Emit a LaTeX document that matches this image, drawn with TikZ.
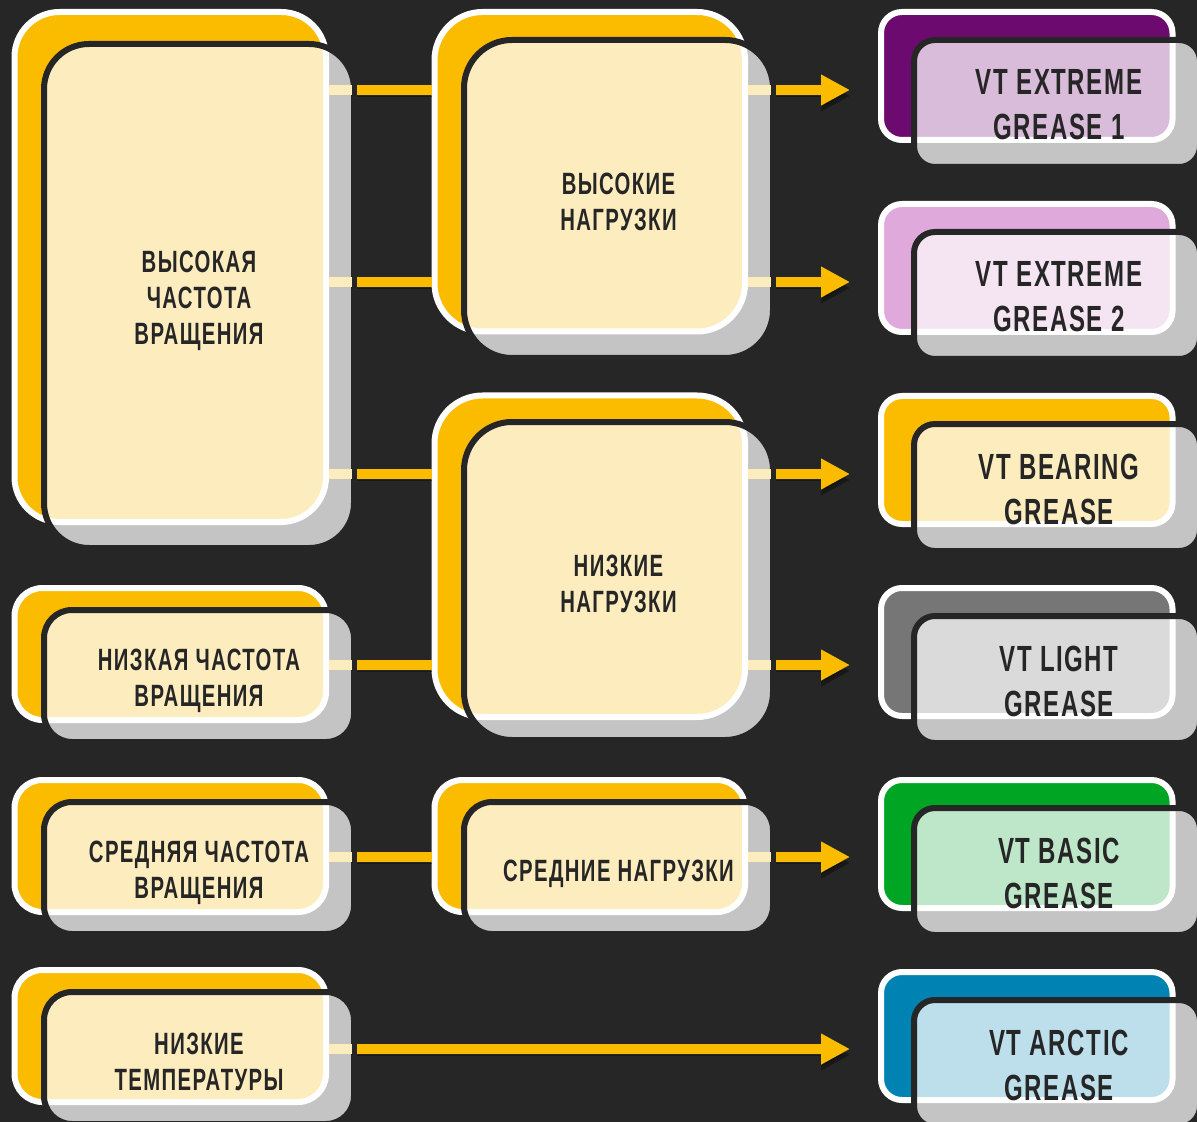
\documentclass[tikz,border=0pt]{standalone}
\usepackage{fontspec}
\newfontfamily\cardfont{Liberation Sans}[FakeStretch=0.66, LetterSpace=4.5]
\usetikzlibrary{arrows.meta}

\definecolor{ink}{RGB}{38,38,38}
\definecolor{amber}{RGB}{251,188,0}
\definecolor{paleamber}{RGB}{253,237,190}
\definecolor{fog}{RGB}{196,196,196}
\definecolor{plum}{RGB}{108,10,111}
\definecolor{paleplum}{RGB}{217,187,218}
\definecolor{orchid}{RGB}{223,169,220}
\definecolor{paleorchid}{RGB}{245,229,243}
\definecolor{slate}{RGB}{118,118,118}
\definecolor{paleslate}{RGB}{218,218,218}
\definecolor{leaf}{RGB}{0,165,36}
\definecolor{paleleaf}{RGB}{190,230,200}
\definecolor{ocean}{RGB}{0,131,179}
\definecolor{paleocean}{RGB}{188,223,235}

\begin{document}
\begin{tikzpicture}[
    x=0.5pt, y=-0.5pt,
    back/.style={rectangle, draw=white, line width=3pt, inner sep=0pt, outer sep=0pt},
    card/.style={rectangle, fill=fog, draw=ink, line width=3pt, inner sep=0pt, outer sep=0pt},
    rim/.style={draw=white, line width=3pt},
    inlay/.style n args={3}{path picture={
        \fill[#2, rounded corners=#3] (#1.south west) rectangle (#1.north east);
        \draw[rim, rounded corners=#3] (#1.south west) rectangle (#1.north east);}},
    big/.style={rounded corners=22.5pt},
    tall/.style={rounded corners=24pt},
    small/.style={rounded corners=14pt},
    tag/.style={rounded corners=10.5pt},
    words/.style={text=ink, align=center, font=\cardfont\bfseries\fontsize{15.4}{18}\selectfont},
    brand/.style={text=ink, align=center, font=\cardfont\bfseries\fontsize{18.2}{22.5}\selectfont},
    stripe/.style={draw=paleamber, line width=5pt, shorten <=1.5pt, shorten >=1pt},
    link/.style={draw=amber, line width=5pt, shorten <=1.5pt, shorten >=1.5pt,
        preaction={draw=black, opacity=.35, transform canvas={yshift=-3pt}}},
    arrow/.style={link, -{Triangle[length=14.5pt, width=14.5pt]}, shorten >=15.5pt}
]

\useasboundingbox (0,0) rectangle (1197,1122);
\fill[ink] (0,0) rectangle (1197,1122);

% Rows of the links
\coordinate (r1) at (0,90);
\coordinate (r2) at (0,282);
\coordinate (r3) at (0,474);
\coordinate (r4) at (0,665);
\coordinate (r5) at (0,857);
\coordinate (r6) at (0,1049);

% Rotation speed and temperature
\node[back, big, fill=amber, minimum width=155.75pt, minimum height=255pt] (hf) at (170.25,267) {};
\node[card, big, inlay={hf}{paleamber}{22.5pt}, minimum width=155pt, minimum height=252pt] (hfc) at (199,296) {};
\node[words] (hft) at ([yshift=-2.5pt]hfc) {ВЫСОКАЯ\\ЧАСТОТА\\ВРАЩЕНИЯ};

\node[back, small, fill=amber, minimum width=155.75pt, minimum height=66pt] (lf) at (170.25,654) {};
\node[card, small, inlay={lf}{paleamber}{14pt}, minimum width=155pt, minimum height=66pt] (lfc) at (199,676) {};
\node[words] (lft) at ([yshift=-2.5pt]lfc) {НИЗКАЯ ЧАСТОТА\\ВРАЩЕНИЯ};

\node[back, small, fill=amber, minimum width=155.75pt, minimum height=66pt] (mf) at (170.25,846) {};
\node[card, small, inlay={mf}{paleamber}{14pt}, minimum width=155pt, minimum height=66pt] (mfc) at (199,868) {};
\node[words] (mft) at ([yshift=-2.5pt]mfc) {СРЕДНЯЯ ЧАСТОТА\\ВРАЩЕНИЯ};

\node[back, small, fill=amber, minimum width=155.75pt, minimum height=66pt] (lt) at (170.25,1036) {};
\node[card, small, inlay={lt}{paleamber}{14pt}, minimum width=155pt, minimum height=66pt] (ltc) at (199,1058) {};
\node[words] (ltt) at ([yshift=-2pt]ltc) {НИЗКИЕ\\ТЕМПЕРАТУРЫ};

% Loads
\node[back, tall, fill=amber, minimum width=155.25pt, minimum height=159.75pt] (hl) at (589.75,171.75) {};
\node[card, tall, inlay={hl}{paleamber}{24pt}, minimum width=154.5pt, minimum height=159pt] (hlc) at (618.5,199) {};
\node[words] (hlt) at ([yshift=-1.25pt]hlc) {ВЫСОКИЕ\\НАГРУЗКИ};

\node[back, tall, fill=amber, minimum width=155.25pt, minimum height=160.75pt] (ll) at (589.75,556.25) {};
\node[card, tall, inlay={ll}{paleamber}{24pt}, minimum width=154.5pt, minimum height=159pt] (llc) at (618.5,581) {};
\node[words] (llt) at ([yshift=-1.5pt]llc) {НИЗКИЕ\\НАГРУЗКИ};

\node[back, small, fill=amber, minimum width=155.25pt, minimum height=66pt] (ml) at (589.75,846) {};
\node[card, small, inlay={ml}{paleamber}{14pt}, minimum width=154.5pt, minimum height=66pt] (mlc) at (618.5,868) {};
\node[words] (mlt) at ([yshift=-3pt]mlc) {СРЕДНИЕ НАГРУЗКИ};

% Greases
\node[back, tag, fill=plum, minimum width=145.75pt, minimum height=64pt] (x1) at (1026.75,76) {};
\node[card, tag, inlay={x1}{paleplum}{10.5pt}, minimum width=143pt, minimum height=63.5pt] (x1c) at (1057,103.5) {};
\node[brand] (x1t) at ([xshift=1pt, yshift=-0.75pt]x1c) {VT EXTREME\\GREASE 1};

\node[back, tag, fill=orchid, minimum width=145.75pt, minimum height=64pt] (x2) at (1026.75,268) {};
\node[card, tag, inlay={x2}{paleorchid}{10.5pt}, minimum width=143pt, minimum height=63.5pt] (x2c) at (1057,295.5) {};
\node[brand] (x2t) at ([xshift=1pt, yshift=-0.75pt]x2c) {VT EXTREME\\GREASE 2};

\node[back, tag, fill=amber, minimum width=145.75pt, minimum height=64pt] (brg) at (1026.75,460) {};
\node[card, tag, inlay={brg}{paleamber}{10.5pt}, minimum width=143pt, minimum height=63.5pt] (brgc) at (1057,487.5) {};
\node[brand] (brgt) at ([xshift=1pt, yshift=-0.75pt]brgc) {VT BEARING\\GREASE};

\node[back, tag, fill=slate, minimum width=145.75pt, minimum height=64pt] (lgt) at (1026.75,652) {};
\node[card, tag, inlay={lgt}{paleslate}{10.5pt}, minimum width=143pt, minimum height=63.5pt] (lgtc) at (1057,679.5) {};
\node[brand] (lgtt) at ([xshift=1pt, yshift=-0.75pt]lgtc) {VT LIGHT\\GREASE};

\node[back, tag, fill=leaf, minimum width=145.75pt, minimum height=64pt] (bsc) at (1026.75,844) {};
\node[card, tag, inlay={bsc}{paleleaf}{10.5pt}, minimum width=143pt, minimum height=63.5pt] (bscc) at (1057,871.5) {};
\node[brand] (bsct) at ([xshift=1pt, yshift=-0.75pt]bscc) {VT BASIC\\GREASE};

\node[back, tag, fill=ocean, minimum width=145.75pt, minimum height=64pt] (arc) at (1026.75,1036) {};
\node[card, tag, inlay={arc}{paleocean}{10.5pt}, minimum width=143pt, minimum height=63.5pt] (arcc) at (1057,1063.5) {};
\node[brand] (arct) at ([xshift=1pt, yshift=-0.75pt]arcc) {VT ARCTIC\\GREASE};

% Links
\foreach \a/\b/\r in {hf/hfc/r1, hf/hfc/r2, hf/hfc/r3, lf/lfc/r4, mf/mfc/r5, lt/ltc/r6,
                      hl/hlc/r1, hl/hlc/r2, ll/llc/r3, ll/llc/r4, ml/mlc/r5}
  \draw[stripe] (\a.east |- \r) -- (\b.east |- \r);

\draw[link] (hfc.east |- r1) -- (hl.west |- r1);
\draw[link] (hfc.east |- r2) -- (hl.west |- r2);
\draw[link] (hfc.east |- r3) -- (ll.west |- r3);
\draw[link] (lfc.east |- r4) -- (ll.west |- r4);
\draw[link] (mfc.east |- r5) -- (ml.west |- r5);

\draw[arrow] (hlc.east |- r1) -- (x1.west |- r1);
\draw[arrow] (hlc.east |- r2) -- (x2.west |- r2);
\draw[arrow] (llc.east |- r3) -- (brg.west |- r3);
\draw[arrow] (llc.east |- r4) -- (lgt.west |- r4);
\draw[arrow] (mlc.east |- r5) -- (bsc.west |- r5);
\draw[arrow] (ltc.east |- r6) -- (arc.west |- r6);

\end{tikzpicture}
\end{document}
